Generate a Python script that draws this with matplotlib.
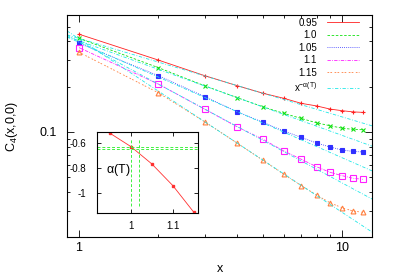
import matplotlib
matplotlib.use("Agg")
import matplotlib.pyplot as plt
import numpy as np
from matplotlib.lines import Line2D
from matplotlib.ticker import FixedLocator, LogLocator, NullFormatter

plt.rcParams['font.family'] = ['Liberation Sans', 'DejaVu Sans']
plt.rcParams['mathtext.fontset'] = 'custom'
plt.rcParams['mathtext.rm'] = 'Liberation Sans'
plt.rcParams['mathtext.it'] = 'Liberation Sans'

# data
x = [1, 2, 3, 4, 5, 6, 7, 8, 9, 10, 11, 12]
temps = ['0.95', '1.0', '1.05', '1.1', '1.15']
c4 = [
    [0.447, 0.301, 0.237, 0.203, 0.181, 0.1675, 0.155, 0.149, 0.142, 0.1385, 0.136, 0.135],
    [0.420, 0.268, 0.203, 0.169, 0.147, 0.133, 0.123, 0.115, 0.110, 0.106, 0.104, 0.1035],
    [0.389, 0.237, 0.172, 0.136, 0.116, 0.1015, 0.092, 0.0845, 0.0794, 0.0759, 0.0742, 0.0736],
    [0.364, 0.2085, 0.142, 0.108, 0.0894, 0.0747, 0.0658, 0.0587, 0.0539, 0.0512, 0.0492, 0.0484],
    [0.339, 0.1825, 0.117, 0.0841, 0.0648, 0.0523, 0.0439, 0.0381, 0.0338, 0.0313, 0.0298, 0.0292],
]
# fit x^-alpha(T): amplitude and exponent
fit_amp = [0.419, 0.404, 0.395, 0.400, 0.4165]
T_num = [0.95, 1.0, 1.05, 1.1, 1.15]
alpha = [-0.522, -0.629, -0.768, -0.941, -1.154]
tc_guess = [1.0, 1.02]
alpha_guess = [-0.63, -0.65]

colors = ['#ff2020', '#10e010', '#3030ff', '#ff20ff', '#ff8040']
styles = ['-', (0, (3, 2)), (0, (1, 1.5)), (0, (4, 1.5, 1, 1.5)), (0, (2, 1.5, 2, 3))]
markers = ['+', 'x', 's', 's', '^']
msizes = [3.5, 3, 3, 3.8, 3.5]
fills = ['full', 'full', 'full', 'none', 'none']
cyan = '#20e8e8'
cyan_style = (0, (4, 2, 1, 2))

fig = plt.figure(figsize=(3.95, 2.76), dpi=100)
ax = fig.add_axes([67/395, 1-237/276, 305/395, 222/276])
ax.set_xscale('log')
ax.set_yscale('log')

xf = np.logspace(np.log10(0.9), np.log10(13), 50)
for i in range(5):
    ax.plot(x, c4[i], color=colors[i], ls=styles[i], lw=0.6, marker=markers[i],
            ms=msizes[i], mew=0.8, fillstyle=fills[i], mec=colors[i])
    ax.plot(xf, fit_amp[i]*xf**alpha[i], color=cyan, ls=cyan_style, lw=0.6)

ax.set_xlim(0.9, 13)
ax.set_ylim(0.02, 0.6)
ax.xaxis.set_major_locator(FixedLocator([1, 10]))
ax.set_xticklabels(['1', '10'])
ax.xaxis.set_minor_locator(LogLocator(subs=np.arange(2, 10)))
ax.xaxis.set_minor_formatter(NullFormatter())
ax.yaxis.set_major_locator(FixedLocator([0.1]))
ax.set_yticklabels(['0.1'])
ax.yaxis.set_minor_locator(LogLocator(subs=np.arange(2, 10)))
ax.yaxis.set_minor_formatter(NullFormatter())
ax.tick_params(which='both', direction='in', top=True, right=True, labelsize=9, width=0.6)
ax.tick_params(which='major', length=5)
ax.tick_params(which='minor', length=2.5)
ax.tick_params(axis='y', pad=7)
for s in ax.spines.values():
    s.set_linewidth(0.8)

ax.set_xlabel('x', fontsize=9)
ax.xaxis.set_label_coords(0.5, -0.115)
ax.set_ylabel(r'C$_4$(x,0,0)', fontsize=9)
ax.yaxis.set_label_coords(-0.155, 0.5)

handles = [Line2D([], [], color=colors[i], ls=styles[i], lw=0.6) for i in range(5)]
handles.append(Line2D([], [], color=cyan, ls=cyan_style, lw=0.6))
labels = temps + [r'x$^{-\alpha(T)}$']
ax.legend(handles, labels, loc='upper right', bbox_to_anchor=(0.957, 0.987),
          frameon=False, markerfirst=False, fontsize=7, handlelength=3.3,
          handletextpad=1.0, labelspacing=0.25, borderpad=0, borderaxespad=0)

# inset: alpha(T)
ins = fig.add_axes([97/395, 1-213/276, 101/395, 81/276])
ins.plot(T_num, alpha, color='#ff3030', lw=0.6, marker='s', ms=1.8)
for t in tc_guess:
    ins.plot([t, t], [-1.104, -0.558], color='#40f040', ls=(0, (3, 2)), lw=0.7)
for a in alpha_guess:
    ins.axhline(a, color='#40f040', ls=(0, (3, 2)), lw=0.7)
ins.set_xlim(0.919, 1.16)
ins.set_ylim(-1.16, -0.512)
ins.set_xticks([1, 1.1])
ins.set_xticklabels(['1', '1.1'])
ins.set_yticks([-1, -0.8, -0.6])
ins.set_yticklabels(['-1', '-0.8', '-0.6'])
ins.tick_params(direction='in', top=True, right=True, labelsize=7, length=3, width=0.6)
ins.tick_params(axis='y', pad=8)
ins.tick_params(axis='x', pad=6)
for s in ins.spines.values():
    s.set_linewidth(0.8)
ins.text(0.21, 0.53, r'$\alpha$(T)', transform=ins.transAxes, fontsize=9,
         ha='center', va='center')

fig.savefig('out.png', dpi=100)
